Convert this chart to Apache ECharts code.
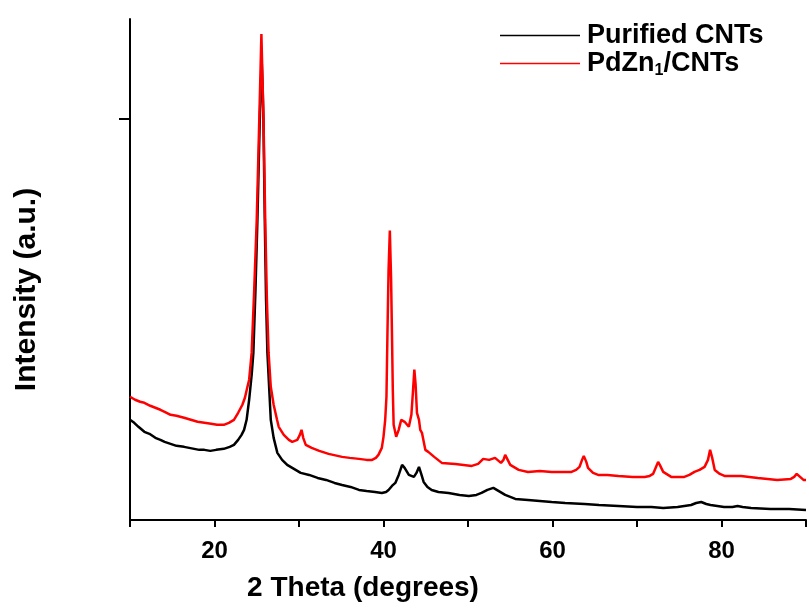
<!DOCTYPE html>
<html>
<head>
<meta charset="utf-8">
<script src="https://cdn.jsdelivr.net/npm/echarts@6/dist/echarts.min.js"></script>
<style>
  html, body { margin: 0; padding: 0; background: #fff; }
  #chart { width: 809px; height: 613px; }
</style>
</head>
<body>
<div id="chart"></div>
<script>
// 2 theta (deg) / intensity (a.u.)
const cntsTheta = [10.0, 10.5, 11.0, 11.7, 12.3, 13.0, 13.6, 14.1, 14.8, 15.5, 16.4, 17.0, 17.6, 18.2, 18.8, 19.5, 20.2, 21.1, 21.8, 22.3, 22.8, 23.2, 23.5, 23.8, 24.1, 24.4, 24.6, 24.85, 25.08, 25.36, 25.5, 25.6, 25.7, 25.79, 25.95, 26.1, 26.26, 26.66, 27.0, 27.44, 28.0, 28.6, 29.2, 30.2, 31.2, 32.2, 33.2, 34.2, 35.1, 36.1, 37.1, 38.0, 39.0, 39.8, 40.3, 40.6, 41.0, 41.4, 41.8, 42.2, 42.5, 43.0, 43.6, 43.9, 44.2, 44.5, 44.75, 45.2, 45.7, 46.5, 47.7, 49.0, 50.1, 51.0, 51.6, 52.3, 53.0, 53.6, 54.4, 55.0, 55.6, 57.1, 58.5, 59.9, 61.5, 63.8, 65.5, 67.8, 70.0, 71.7, 73.1, 74.8, 76.4, 77.0, 77.6, 78.2, 78.7, 80.3, 81.3, 81.9, 82.5, 83.5, 85.8, 88.0, 90.0];
const cntsIntensity = [100, 97, 93, 88, 86, 82, 80, 78, 76, 74, 73, 72, 71, 70, 70, 69, 70, 71, 73, 75, 80, 85, 90, 100, 120, 145, 167, 230, 300, 400, 440, 455, 430, 400, 300, 220, 167, 100, 82, 67, 60, 55, 52, 47, 45, 42, 40, 37, 35, 33, 30, 29, 28, 27, 28, 30, 34, 37, 45, 55, 52, 45, 43, 47, 53, 45, 38, 33, 30, 28, 27, 25, 24, 25, 27, 30, 32, 29, 25, 23, 21, 20, 19, 18, 17, 16, 15, 14, 13, 13, 12, 13, 15, 17, 18, 16, 15, 13, 13, 14, 13, 12, 11, 11, 10];

const pdznTheta = [10.0, 10.6, 11.2, 11.7, 12.4, 13.0, 13.6, 14.1, 14.8, 15.5, 16.4, 17.2, 18.0, 18.8, 19.6, 20.3, 21.1, 21.7, 22.3, 22.8, 23.3, 23.6, 23.9, 24.1, 24.4, 24.7, 25.0, 25.3, 25.45, 25.55, 25.65, 25.8, 26.0, 26.2, 26.4, 26.66, 27.0, 27.4, 27.6, 28.2, 28.8, 29.2, 29.8, 30.1, 30.3, 30.5, 30.8, 31.5, 32.4, 33.5, 35.1, 36.0, 37.1, 38.0, 38.65, 39.1, 39.4, 39.8, 40.0, 40.2, 40.35, 40.47, 40.6, 40.75, 40.9, 41.0, 41.1, 41.2, 41.5, 41.8, 42.1, 42.5, 43.0, 43.3, 43.5, 43.65, 43.8, 43.96, 44.2, 44.35, 44.55, 44.95, 45.3, 46.0, 46.9, 48.5, 50.45, 51.2, 51.8, 52.5, 53.2, 53.9, 54.2, 54.4, 54.7, 55.0, 56.0, 57.1, 58.5, 59.9, 61.0, 62.25, 62.8, 63.2, 63.5, 63.7, 64.0, 64.2, 64.8, 65.4, 66.5, 67.8, 69.5, 70.9, 71.5, 71.9, 72.2, 72.5, 72.7, 73.1, 74.05, 75.6, 76.2, 76.8, 77.4, 78.0, 78.4, 78.65, 78.9, 79.2, 79.8, 80.35, 82.3, 84.3, 86.6, 88.2, 88.6, 88.9, 89.3, 89.7, 90.0];
const pdznIntensity = [123, 120, 118, 117, 114, 112, 110, 108, 105, 104, 102, 100, 98, 97, 96, 95, 95, 97, 100, 107, 115, 122, 133, 140, 167, 230, 300, 400, 450, 485, 450, 400, 300, 220, 167, 133, 115, 100, 93, 85, 80, 78, 80, 85, 90, 82, 75, 72, 69, 66, 63, 62, 61, 60, 60, 62, 65, 72, 83, 100, 123, 187, 250, 289, 240, 187, 130, 95, 83, 90, 100, 98, 93, 105, 130, 150, 135, 107, 100, 90, 87, 70, 68, 63, 57, 56, 54, 56, 61, 60, 62, 57, 60, 65, 60, 55, 50, 48, 49, 48, 48, 48, 50, 53, 60, 64, 58, 52, 47, 45, 45, 44, 43, 43, 44, 46, 52, 58, 55, 48, 43, 43, 45, 48, 50, 53, 60, 70, 62, 50, 46, 44, 44, 42, 40, 41, 43, 46, 43, 40, 40];

const xTicks = [20, 40, 60, 80];
const yTicks = [400];

const zip = (xs, ys) => xs.map((x, i) => [x, ys[i]]);
const FONT = 'Liberation Sans, Arial, sans-serif';

const chart = echarts.init(document.getElementById('chart'));
chart.setOption({
  animation: false,
  backgroundColor: '#fff',
  grid: { left: 130, right: 1, top: 19, bottom: 93 },
  legend: {
    orient: 'vertical',
    left: 495,
    top: 17,
    icon: 'rect',
    itemWidth: 80,
    itemHeight: 1.5,
    itemGap: 1,
    textStyle: {
      fontFamily: FONT,
      fontSize: 27,
      fontWeight: 'bold',
      color: '#000',
      padding: [0, 0, 0, 2],
      rich: {
        sub: { fontFamily: FONT, fontSize: 16, fontWeight: 'bold', color: '#000', verticalAlign: 'bottom', padding: [14, 0, 0, 0] }
      }
    },
    formatter: name => name === 'PdZn1/CNTs' ? 'PdZn{sub|1}/CNTs' : name,
    data: ['Purified CNTs', 'PdZn1/CNTs']
  },
  xAxis: {
    type: 'value',
    min: 10,
    max: 90,
    interval: 10,
    name: '2 Theta (degrees)',
    nameLocation: 'middle',
    nameGap: 54,
    nameTextStyle: { fontFamily: FONT, fontSize: 28, fontWeight: 'bold', color: '#000', padding: [0, 210, 0, 0] },
    axisLine: { lineStyle: { color: '#000', width: 2 } },
    axisTick: { length: 7, lineStyle: { color: '#000', width: 2 } },
    axisLabel: {
      margin: 19,
      fontFamily: FONT, fontSize: 24, fontWeight: 'bold', color: '#000',
      formatter: v => xTicks.includes(v) ? String(v) : ''
    },
    splitLine: { show: false }
  },
  yAxis: {
    type: 'value',
    min: 0,
    max: 500,
    name: 'Intensity (a.u.)',
    nameLocation: 'middle',
    nameGap: 88,
    nameTextStyle: { fontFamily: FONT, fontSize: 30, fontWeight: 'bold', color: '#000', padding: [0, 40, 0, 0] },
    axisLine: { show: true, lineStyle: { color: '#000', width: 2 } },
    axisTick: { show: true, length: 11, customValues: yTicks, lineStyle: { color: '#000', width: 2 } },
    axisLabel: { show: false },
    splitLine: { show: false }
  },
  series: [
    {
      name: 'Purified CNTs',
      type: 'line',
      symbol: 'none',
      color: '#000',
      lineStyle: { width: 2.5 },
      data: zip(cntsTheta, cntsIntensity)
    },
    {
      name: 'PdZn1/CNTs',
      type: 'line',
      symbol: 'none',
      color: '#ff0000',
      lineStyle: { width: 2.5 },
      data: zip(pdznTheta, pdznIntensity)
    }
  ]
});
</script>
</body>
</html>
